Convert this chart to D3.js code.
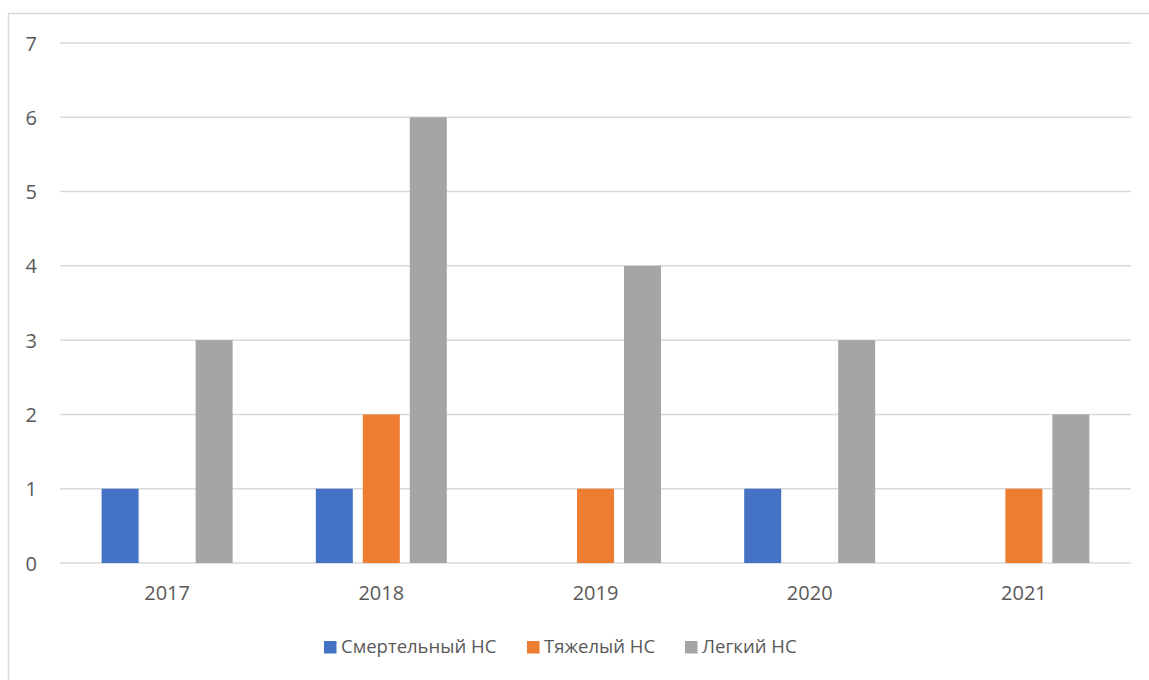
<!DOCTYPE html>
<html>
<head>
<meta charset="utf-8">
<script src="https://cdn.jsdelivr.net/npm/d3@7"></script>
<style>
  html, body { margin: 0; padding: 0; background: #fff; }
  svg { display: block; }
  text { font-family: "Open Sans", "DejaVu Sans", sans-serif; fill: #595959; }
</style>
</head>
<body>
<svg id="chart" width="1149" height="680"></svg>
<script>
// Accident counts by year
const years = ["2017", "2018", "2019", "2020", "2021"];
const seriesNames = ["Смертельный НС", "Тяжелый НС", "Легкий НС"];
const fatal = [1, 1, 0, 1, 0];
const severe = [0, 2, 1, 0, 1];
const light = [3, 6, 4, 3, 2];
const yTicks = [0, 1, 2, 3, 4, 5, 6, 7];
const colors = ["#4472c4", "#ed7d31", "#a5a5a5"];

const seriesValues = [fatal, severe, light];

const svg = d3.select("#chart");
const W = 1149, H = 680;

// Outer chart frame
svg.append("rect")
  .attr("x", 8.5).attr("y", 13.5)
  .attr("width", W + 10).attr("height", H + 10)
  .attr("fill", "none").attr("stroke", "#d9d9d9").attr("stroke-width", 1.5);

const plot = { left: 60, right: 1131, top: 43, bottom: 563 };

const x = d3.scaleBand().domain(years).range([plot.left, plot.right]).padding(0);
const y = d3.scaleLinear().domain([0, 7]).range([plot.bottom, plot.top]);

// Bars inside each year: centred cluster, 37px bars with 10px gaps
const clusterW = 131;
const clusterOff = (x.bandwidth() - clusterW) / 2;
const xs = d3.scaleBand().domain(seriesNames)
  .range([clusterOff, clusterOff + clusterW])
  .paddingInner(10 / 47)
  .paddingOuter(0);

// Horizontal gridlines
svg.append("g")
  .selectAll("line")
  .data(yTicks)
  .join("line")
  .attr("x1", plot.left).attr("x2", plot.right)
  .attr("y1", d => y(d)).attr("y2", d => y(d))
  .attr("stroke", "#d9d9d9").attr("stroke-width", 1.5);

// Y tick labels
const yAxis = d3.axisLeft(y).tickValues(yTicks).tickSize(0).tickPadding(0).tickFormat(d3.format("d"));
const gy = svg.append("g").attr("transform", "translate(37,0)").call(yAxis);
gy.select(".domain").remove();
gy.selectAll("text")
  .attr("font-size", 20)
  .attr("text-anchor", "end")
  .attr("dy", "0.35em")
  .style("font-family", "\"Open Sans\", sans-serif")
  .attr("fill", "#595959");

// X tick labels
const xAxis = d3.axisBottom(x).tickSize(0).tickPadding(0);
const gx = svg.append("g").attr("transform", `translate(0,${plot.bottom + 30})`).call(xAxis);
gx.select(".domain").remove();
gx.selectAll("text")
  .attr("font-size", 20)
  .attr("dy", "0.35em")
  .style("font-family", "\"Open Sans\", sans-serif")
  .attr("fill", "#595959");

// Bars
const groups = svg.append("g")
  .selectAll("g")
  .data(years)
  .join("g")
  .attr("transform", d => `translate(${x(d)},0)`);

groups.selectAll("rect")
  .data((yr, i) => seriesNames.map((s, k) => ({ s, k, v: seriesValues[k][i] })))
  .join("rect")
  .attr("x", d => xs(d.s))
  .attr("width", xs.bandwidth())
  .attr("y", d => y(d.v))
  .attr("height", d => y(0) - y(d.v))
  .attr("fill", d => colors[d.k]);

// Legend
const legendItems = [
  { name: seriesNames[0], color: colors[0], x: 324 },
  { name: seriesNames[1], color: colors[1], x: 527 },
  { name: seriesNames[2], color: colors[2], x: 685 }
];
const lg = svg.append("g");
legendItems.forEach(it => {
  lg.append("rect").attr("x", it.x).attr("y", 641).attr("width", 12.5).attr("height", 12.5).attr("fill", it.color);
  lg.append("text").attr("x", it.x + 17).attr("y", 647).attr("dy", "0.35em")
    .attr("font-size", 18.5).text(it.name);
});
</script>
</body>
</html>
